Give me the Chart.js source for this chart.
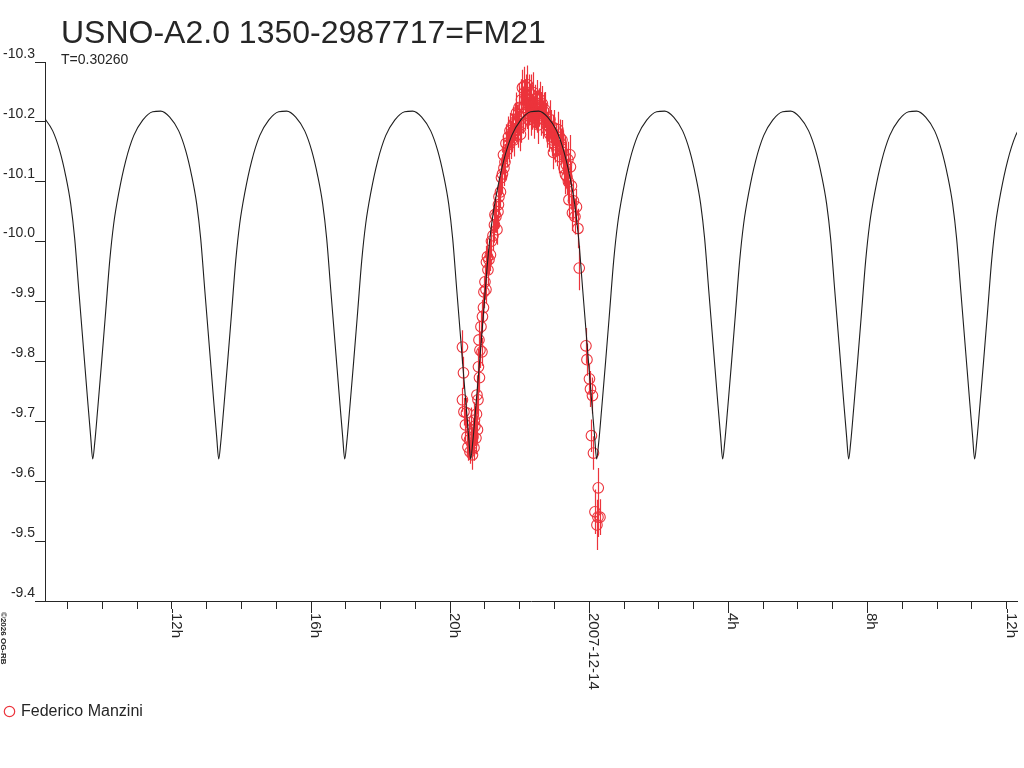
<!DOCTYPE html>
<html>
<head>
<meta charset="utf-8">
<title>USNO-A2.0 1350-2987717=FM21</title>
<script src="https://cdn.jsdelivr.net/npm/chart.js@4.4.0/dist/chart.umd.min.js"></script>
<style>
  html, body { margin: 0; padding: 0; background: #fff; }
  #chart { display: block; }
</style>
</head>
<body>
<canvas id="chart" width="1024" height="768"></canvas>
<script>
// Times are hours relative to 2007-12-14 00:00 UT, values are magnitudes
var modelHours = [
  -15.687, -15.428, -15.227, -15.055, -14.911, -14.796, -14.681, -14.537, -14.422, -14.336,
  -14.278, -14.220, -14.134, -14.019, -13.904, -13.789, -13.674, -13.530, -13.329, -13.099, -12.840, -12.553,
  -12.323, -12.064, -11.805, -11.604, -11.432, -11.288, -11.173, -11.058, -10.914, -10.799, -10.713,
  -10.655, -10.597, -10.511, -10.396, -10.281, -10.166, -10.051, -9.907, -9.706, -9.476, -9.217, -8.930,
  -8.700, -8.441, -8.182, -7.981, -7.809, -7.665, -7.550, -7.435, -7.291, -7.176, -7.090,
  -7.032, -6.974, -6.888, -6.773, -6.658, -6.543, -6.428, -6.284, -6.083, -5.853, -5.594, -5.307,
  -5.077, -4.818, -4.559, -4.358, -4.186, -4.042, -3.927, -3.812, -3.668, -3.553, -3.467,
  -3.410, -3.352, -3.266, -3.151, -3.036, -2.921, -2.806, -2.662, -2.461, -2.231, -1.972, -1.685,
  -1.455, -1.196, -0.937, -0.736, -0.564, -0.420, -0.305, -0.190, -0.046, 0.069, 0.155,
  0.213, 0.271, 0.357, 0.472, 0.587, 0.702, 0.817, 0.961, 1.162, 1.392, 1.651, 1.938,
  2.168, 2.427, 2.686, 2.887, 3.059, 3.203, 3.318, 3.433, 3.577, 3.692, 3.778,
  3.836, 3.894, 3.980, 4.095, 4.210, 4.325, 4.440, 4.584, 4.785, 5.015, 5.274, 5.561,
  5.791, 6.050, 6.309, 6.510, 6.682, 6.826, 6.941, 7.056, 7.200, 7.315, 7.401,
  7.459, 7.517, 7.603, 7.718, 7.833, 7.948, 8.063, 8.207, 8.408, 8.638, 8.897, 9.184,
  9.414, 9.673, 9.932, 10.133, 10.305, 10.449, 10.564, 10.679, 10.823, 10.938, 11.024,
  11.081, 11.139, 11.225, 11.340, 11.455, 11.570, 11.685, 11.829, 12.030, 12.260, 12.519
];
var modelMags = [
  -10.208, -10.185, -10.152, -10.110, -10.063, -10.005, -9.921, -9.817, -9.734, -9.674,
  -9.637, -9.664, -9.721, -9.801, -9.884, -9.968, -10.030, -10.081, -10.135, -10.177, -10.203, -10.217,
  -10.218, -10.208, -10.185, -10.152, -10.110, -10.063, -10.005, -9.921, -9.817, -9.734, -9.674,
  -9.637, -9.664, -9.721, -9.801, -9.884, -9.968, -10.030, -10.081, -10.135, -10.177, -10.203, -10.217,
  -10.218, -10.208, -10.185, -10.152, -10.110, -10.063, -10.005, -9.921, -9.817, -9.734, -9.674,
  -9.637, -9.664, -9.721, -9.801, -9.884, -9.968, -10.030, -10.081, -10.135, -10.177, -10.203, -10.217,
  -10.218, -10.208, -10.185, -10.152, -10.110, -10.063, -10.005, -9.921, -9.817, -9.734, -9.674,
  -9.637, -9.664, -9.721, -9.801, -9.884, -9.968, -10.030, -10.081, -10.135, -10.177, -10.203, -10.217,
  -10.218, -10.208, -10.185, -10.152, -10.110, -10.063, -10.005, -9.921, -9.817, -9.734, -9.674,
  -9.637, -9.664, -9.721, -9.801, -9.884, -9.968, -10.030, -10.081, -10.135, -10.177, -10.203, -10.217,
  -10.218, -10.208, -10.185, -10.152, -10.110, -10.063, -10.005, -9.921, -9.817, -9.734, -9.674,
  -9.637, -9.664, -9.721, -9.801, -9.884, -9.968, -10.030, -10.081, -10.135, -10.177, -10.203, -10.217,
  -10.218, -10.208, -10.185, -10.152, -10.110, -10.063, -10.005, -9.921, -9.817, -9.734, -9.674,
  -9.637, -9.664, -9.721, -9.801, -9.884, -9.968, -10.030, -10.081, -10.135, -10.177, -10.203, -10.217,
  -10.218, -10.208, -10.185, -10.152, -10.110, -10.063, -10.005, -9.921, -9.817, -9.734, -9.674,
  -9.637, -9.664, -9.721, -9.801, -9.884, -9.968, -10.030, -10.081, -10.135, -10.177, -10.203
];

// Federico Manzini observations
var obsHours = [
  -3.646, -3.617, -3.646, -3.603, -3.560, -3.531, -3.516, -3.488, -3.444, -3.430,
  -3.401, -3.373, -3.344, -3.315, -3.286, -3.258, -3.243, -3.214, -3.200, -3.186,
  -3.157, -3.143, -3.114, -3.085, -3.071, -3.042, -3.028, -2.999, -2.970, -2.956,
  -2.927, -2.884, -2.841, -2.812, -2.769, -2.726, -2.683, -2.654, -2.625, -2.596,
  -2.553, -2.524, -2.496, -2.467, -2.424, -2.395, -2.352, -2.323, -2.280, -2.237,
  -2.194, -2.136, -2.093, -2.050, -2.007, -1.978, -1.949, -1.921, -1.892, -1.863,
  -1.834, -1.806, -1.777, -1.748, -1.719, -1.691, -1.662, -1.633, -1.604, -1.576,
  -1.547, -1.518, -1.489, -1.461, -1.417, -1.389, -1.346, -1.317, -1.274, -1.231,
  -1.187, -1.144, -1.087, -1.044, -1.029, -0.986, -0.943, -0.900, -0.857, -0.814,
  -0.785, -0.756, -0.699, -0.684, -0.656, -0.641, -0.598, -0.584, -0.555, -0.541,
  -0.512, -0.483, -0.454, -0.411, -0.368, -0.325, -0.288, -0.095, -0.066, 0.006,
  0.035, 0.092, 0.063, 0.121, 0.259, 0.164, 0.221, 0.250, 0.308,
  -2.453, -2.309, -2.223, -2.165, -2.079, -2.021, -1.964, -1.906, -1.849, -1.791,
  -1.734, -1.676, -1.619, -1.561, -1.504, -1.446, -1.389, -1.302, -1.216, -1.130,
  -1.072, -1.015, -0.929, -0.842, -0.727, -0.612, -3.358, -3.301, -3.229, -3.171,
  -2.913, -2.711, -2.611
];
var obsMags = [
  -9.824, -9.781, -9.736, -9.716, -9.694, -9.714, -9.674, -9.657, -9.669, -9.649,
  -9.686, -9.662, -9.674, -9.656, -9.692, -9.672, -9.712, -9.686, -9.736, -9.791,
  -9.773, -9.819, -9.858, -9.816, -9.875, -9.890, -9.916, -9.933, -9.920, -9.966,
  -9.975, -9.970, -9.978, -10.001, -10.010, -10.028, -10.042, -10.020, -10.050, -10.075,
  -10.083, -10.107, -10.113, -10.145, -10.133, -10.164, -10.154, -10.175, -10.185, -10.170,
  -10.195, -10.200, -10.215, -10.187, -10.209, -10.179, -10.237, -10.257, -10.224, -10.260,
  -10.215, -10.244, -10.262, -10.204, -10.249, -10.232, -10.245, -10.217, -10.249, -10.207,
  -10.232, -10.220, -10.240, -10.195, -10.237, -10.215, -10.230, -10.204, -10.220, -10.202,
  -10.195, -10.180, -10.192, -10.182, -10.149, -10.162, -10.170, -10.187, -10.142, -10.159,
  -10.170, -10.149, -10.142, -10.112, -10.128, -10.108, -10.100, -10.070, -10.145, -10.125,
  -10.093, -10.048, -10.068, -10.042, -10.058, -10.022, -9.956, -9.826, -9.803, -9.771,
  -9.754, -9.743, -9.676, -9.647, -9.589, -9.549, -9.527, -9.540, -9.540,
  -10.123, -10.162, -10.182, -10.170, -10.197, -10.224, -10.195, -10.212, -10.237, -10.220,
  -10.229, -10.207, -10.234, -10.224, -10.212, -10.224, -10.207, -10.217, -10.187, -10.204,
  -10.170, -10.190, -10.154, -10.174, -10.123, -10.137, -9.644, -9.702, -9.744, -9.836,
  -9.953, -10.045, -10.062
];
var obsErrors = [
  0.028, 0.027, 0.020, 0.023, 0.027, 0.025, 0.030, 0.023, 0.033, 0.020,
  0.037, 0.025, 0.030, 0.022, 0.033, 0.027, 0.030, 0.023, 0.027, 0.030,
  0.025, 0.030, 0.027, 0.023, 0.028, 0.025, 0.027, 0.030, 0.023, 0.027,
  0.030, 0.025, 0.027, 0.028, 0.025, 0.030, 0.027, 0.025, 0.028, 0.030,
  0.027, 0.030, 0.033, 0.033, 0.030, 0.032, 0.030, 0.034, 0.030, 0.032,
  0.030, 0.032, 0.034, 0.030, 0.032, 0.028, 0.034, 0.030, 0.035, 0.032,
  0.030, 0.035, 0.032, 0.034, 0.030, 0.032, 0.034, 0.030, 0.034, 0.035,
  0.030, 0.032, 0.030, 0.032, 0.030, 0.035, 0.030, 0.032, 0.030, 0.030,
  0.028, 0.030, 0.028, 0.030, 0.028, 0.030, 0.028, 0.030, 0.028, 0.030,
  0.033, 0.037, 0.033, 0.033, 0.037, 0.030, 0.033, 0.030, 0.033, 0.030,
  0.033, 0.030, 0.033, 0.030, 0.030, 0.033, 0.037, 0.030, 0.027, 0.025,
  0.030, 0.030, 0.027, 0.028, 0.033, 0.037, 0.042, 0.033, 0.030,
  0.030, 0.030, 0.032, 0.028, 0.032, 0.035, 0.030, 0.032, 0.034, 0.032,
  0.035, 0.030, 0.032, 0.034, 0.030, 0.032, 0.030, 0.032, 0.030, 0.032,
  0.028, 0.030, 0.028, 0.030, 0.028, 0.030, 0.025, 0.030, 0.033, 0.030,
  0.027, 0.030, 0.033
];

// Axis ticks and labels
var majorTicks = [-12, -8, -4, 0, 4, 8, 12];
var majorLabels = ['12h', '16h', '20h', '2007-12-14', '4h', '8h', '12h'];

var titleText = 'USNO-A2.0 1350-2987717=FM21';
var periodText = 'T=0.30260';
var observerName = 'Federico Manzini';
var creditText = '\u00a92026 OG-RB';

var FONT = '"Liberation Sans", Arial, sans-serif';
var INK = '#262626';
var RED = 'rgb(236,52,60)';

var modelPoints = modelHours.map(function (h, i) { return { x: h, y: modelMags[i] }; });
var obsPoints = obsHours.map(function (h, i) { return { x: h, y: obsMags[i] }; });

// error bars, rotated date labels and the loose texts
var decorations = {
  id: 'decorations',
  beforeDatasetsDraw: function (chart) {
    var ctx = chart.ctx, xs = chart.scales.x, ys = chart.scales.y, area = chart.chartArea;
    ctx.save();
    ctx.beginPath();
    ctx.rect(area.left, area.top, area.right - area.left, area.bottom - area.top);
    ctx.clip();
    ctx.strokeStyle = RED;
    ctx.lineWidth = 1.2;
    ctx.beginPath();
    for (var i = 0; i < obsHours.length; i++) {
      var px = Math.round(xs.getPixelForValue(obsHours[i])) + 0.5;
      ctx.moveTo(px, ys.getPixelForValue(obsMags[i] - obsErrors[i]));
      ctx.lineTo(px, ys.getPixelForValue(obsMags[i] + obsErrors[i]));
    }
    ctx.stroke();
    ctx.restore();
  },
  afterDraw: function (chart) {
    var ctx = chart.ctx, xs = chart.scales.x, area = chart.chartArea;
    ctx.save();
    ctx.fillStyle = INK;
    ctx.strokeStyle = INK;
    ctx.lineWidth = 1;

    // major ticks are longer than the hourly ones
    ctx.beginPath();
    majorTicks.forEach(function (v) {
      var px = Math.round(xs.getPixelForValue(v)) + 0.5;
      ctx.moveTo(px, area.bottom + 8);
      ctx.lineTo(px, area.bottom + 12);
    });
    ctx.stroke();

    // rotated hour labels
    ctx.font = '15px ' + FONT;
    ctx.textAlign = 'left';
    ctx.textBaseline = 'alphabetic';
    majorTicks.forEach(function (v, i) {
      var px = Math.round(xs.getPixelForValue(v));
      ctx.save();
      ctx.translate(px, area.bottom + 12);
      ctx.rotate(Math.PI / 2);
      ctx.fillText(majorLabels[i], 0, 0);
      ctx.restore();
    });

    // credit line
    ctx.save();
    ctx.font = 'bold 8px ' + FONT;
    ctx.translate(1, 612);
    ctx.rotate(Math.PI / 2);
    ctx.fillText(creditText, 0, 0);
    ctx.restore();

    // title and period
    ctx.font = '32px ' + FONT;
    ctx.fillText(titleText, 61, 43);
    ctx.font = '14px ' + FONT;
    ctx.fillText(periodText, 61, 64);

    // legend
    ctx.strokeStyle = RED;
    ctx.lineWidth = 1.2;
    ctx.beginPath();
    ctx.arc(9.5, 711.5, 5.2, 0, Math.PI * 2);
    ctx.stroke();
    ctx.font = '16px ' + FONT;
    ctx.fillStyle = INK;
    ctx.fillText(observerName, 21, 716);
    ctx.restore();
  }
};

var chart = new Chart(document.getElementById('chart'), {
  type: 'scatter',
  data: {
    datasets: [
      {
        label: 'model',
        data: modelPoints,
        showLine: true,
        borderColor: '#1e1e1e',
        borderWidth: 1.1,
        pointRadius: 0,
        cubicInterpolationMode: 'monotone',
        fill: false
      },
      {
        label: observerName,
        data: obsPoints,
        showLine: false,
        pointStyle: 'circle',
        pointRadius: 5.3,
        borderWidth: 1.1,
        borderColor: RED,
        backgroundColor: 'rgba(0,0,0,0)'
      }
    ]
  },
  options: {
    responsive: false,
    animation: false,
    devicePixelRatio: 1,
    layout: { padding: { top: 62, right: 7, left: 0, bottom: 0 } },
    plugins: {
      legend: { display: false },
      tooltip: { enabled: false },
      title: { display: false }
    },
    scales: {
      x: {
        type: 'linear',
        min: -15.65,
        max: 12.3,
        ticks: { display: false, stepSize: 1, includeBounds: false },
        grid: { drawOnChartArea: false, drawTicks: true, tickLength: 8, tickColor: INK, tickWidth: 1 },
        border: { display: true, color: INK, width: 1 },
        afterFit: function (scale) { scale.height = 167; }
      },
      y: {
        type: 'linear',
        reverse: true,
        min: -10.3,
        max: -9.4,
        ticks: {
          stepSize: 0.1,
          padding: 0,
          color: INK,
          font: { family: FONT, size: 14, lineHeight: 1.15 },
          callback: function (value) { return [Number(value).toFixed(1), '']; }
        },
        grid: { drawOnChartArea: false, drawTicks: true, tickLength: 10, tickColor: INK, tickWidth: 1 },
        border: { display: true, color: INK, width: 1 },
        afterFit: function (scale) { scale.width = 45; }
      }
    }
  },
  plugins: [decorations]
});
</script>
</body>
</html>
